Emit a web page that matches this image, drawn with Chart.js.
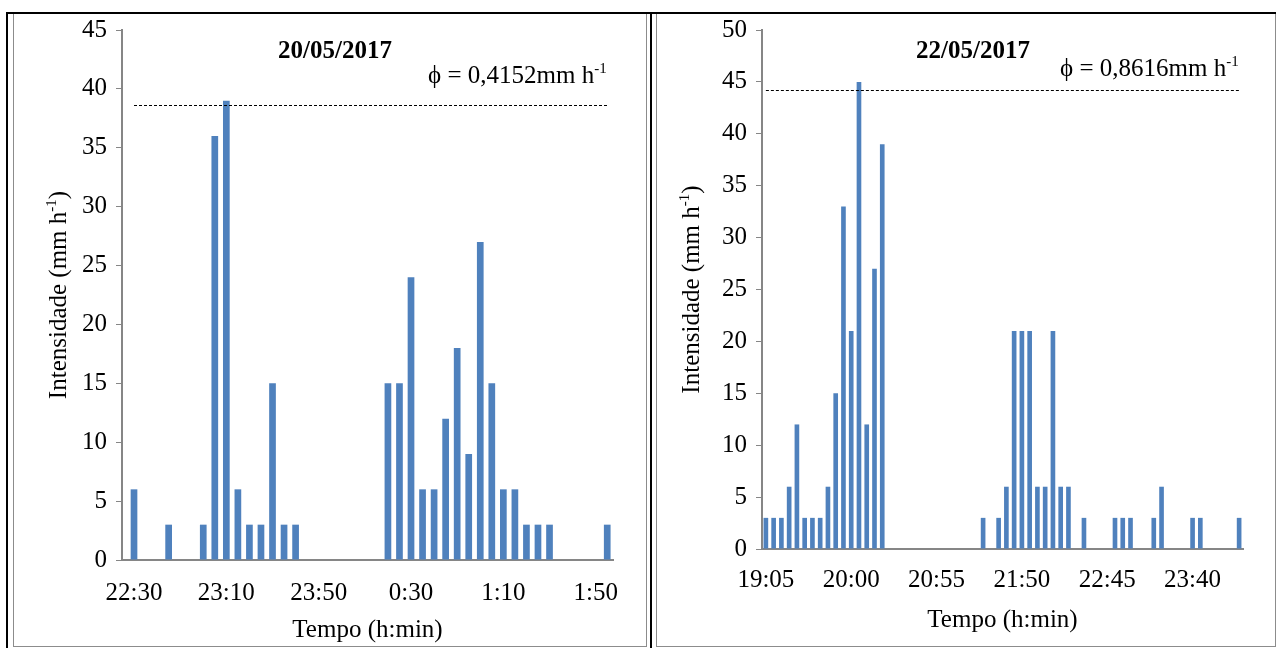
<!DOCTYPE html>
<html>
<head>
<meta charset="utf-8">
<script src="https://cdn.jsdelivr.net/npm/chart.js@4.4.1/dist/chart.umd.min.js"></script>
<style>
  html, body { margin: 0; padding: 0; background: #fff; }
  #page { position: relative; width: 1276px; height: 648px; overflow: hidden; }
  .rule { position: absolute; background: #000; }
  .panel { position: absolute; top: 14px; border: 1px solid #8c8c8c; border-top: none; }
  .panel canvas { display: block; }
</style>
</head>
<body>
<div id="page">
  <div class="rule" style="left:6px;top:12px;width:1270px;height:2px"></div>
  <div class="rule" style="left:6px;top:12px;width:2px;height:636px"></div>
  <div class="rule" style="left:650px;top:12px;width:2px;height:636px"></div>
  <div class="panel" style="left:13px"><canvas id="left" width="632" height="632"></canvas></div>
  <div class="panel" style="left:656px"><canvas id="right" width="618" height="632"></canvas></div>
</div>
<script>
// 20/05/2017 - 5 min steps
const leftCategories = [
  "22:30", "22:35", "22:40", "22:45", "22:50", "22:55", "23:00", "23:05", "23:10", "23:15",
  "23:20", "23:25", "23:30", "23:35", "23:40", "23:45", "23:50", "23:55", "0:00", "0:05",
  "0:10", "0:15", "0:20", "0:25", "0:30", "0:35", "0:40", "0:45", "0:50", "0:55",
  "1:00", "1:05", "1:10", "1:15", "1:20", "1:25", "1:30", "1:35", "1:40", "1:45",
  "1:50", "1:55"
];
const leftValues = [
  6, 0, 0, 3, 0, 0, 3, 36, 39, 6,
  3, 3, 15, 3, 3, 0, 0, 0, 0, 0,
  0, 0, 15, 15, 24, 6, 6, 12, 18, 9,
  27, 15, 6, 6, 3, 3, 3, 0, 0, 0,
  0, 3
];
const leftTickLabels = ["22:30", "23:10", "23:50", "0:30", "1:10", "1:50"];
const leftDate = "20/05/2017";
const leftPhi = "0,4152";
const leftRefLine = 38.6;

// 22/05/2017 - 5 min steps
const rightCategories = [
  "19:05", "19:10", "19:15", "19:20", "19:25", "19:30", "19:35", "19:40", "19:45", "19:50",
  "19:55", "20:00", "20:05", "20:10", "20:15", "20:20", "20:25", "20:30", "20:35", "20:40",
  "20:45", "20:50", "20:55", "21:00", "21:05", "21:10", "21:15", "21:20", "21:25", "21:30",
  "21:35", "21:40", "21:45", "21:50", "21:55", "22:00", "22:05", "22:10", "22:15", "22:20",
  "22:25", "22:30", "22:35", "22:40", "22:45", "22:50", "22:55", "23:00", "23:05", "23:10",
  "23:15", "23:20", "23:25", "23:30", "23:35", "23:40", "23:45", "23:50", "23:55", "0:00",
  "0:05", "0:10"
];
const rightValues = [
  3, 3, 3, 6, 12, 3, 3, 3, 6, 15,
  33, 21, 45, 12, 27, 39, 0, 0, 0, 0,
  0, 0, 0, 0, 0, 0, 0, 0, 3, 0,
  3, 6, 21, 21, 21, 6, 6, 21, 6, 6,
  0, 3, 0, 0, 0, 3, 3, 3, 0, 0,
  3, 6, 0, 0, 0, 3, 3, 0, 0, 0,
  0, 3
];
const rightTickLabels = ["19:05", "20:00", "20:55", "21:50", "22:45", "23:40"];
const rightDate = "22/05/2017";
const rightPhi = "0,8616";
const rightRefLine = 44.2;

const FONT = "'Liberation Serif', 'Times New Roman', serif";
const AXIS_GREY = "#868686";
const BAR_BLUE = "#4f81bd";

// draws text runs, some raised as superscript; returns total width
function drawRuns(ctx, runs, x, y, measureOnly) {
  let cx = x;
  runs.forEach((r) => {
    ctx.font = r.sup ? `15px ${FONT}` : `25px ${FONT}`;
    if (!measureOnly) ctx.fillText(r.t, cx, r.sup ? y - 10 : y);
    cx += ctx.measureText(r.t).width;
  });
  return cx - x;
}

const panelText = {
  id: "panelText",
  afterDatasetsDraw(chart, args, opts) {
    const { ctx, chartArea: a, scales } = chart;
    const xs = scales.x;
    const ys = scales.y;
    ctx.save();

    // dashed reference line across the data range
    const ly = Math.round(ys.getPixelForValue(opts.refLine)) + 0.5;
    ctx.strokeStyle = "#000";
    ctx.lineWidth = 1;
    ctx.setLineDash([3, 2]);
    ctx.beginPath();
    ctx.moveTo(xs.getPixelForValue(0), ly);
    ctx.lineTo(xs.getPixelForValue(opts.count - 1), ly);
    ctx.stroke();
    ctx.setLineDash([]);

    ctx.fillStyle = "#000";
    // date
    ctx.font = `bold 25px ${FONT}`;
    ctx.textAlign = "center";
    ctx.textBaseline = "middle";
    ctx.fillText(opts.date, a.left + opts.dateDx, a.top + opts.dateDy);

    // phi annotation
    ctx.textAlign = "left";
    ctx.textBaseline = "alphabetic";
    drawRuns(ctx, [
      { t: "\u03d5 = " + opts.phi + "mm h" },
      { t: "-1", sup: true }
    ], a.left + opts.phiDx, a.top + opts.phiDy);

    // y axis title, rotated
    const runs = [{ t: "Intensidade (mm h" }, { t: "-1", sup: true }, { t: ")" }];
    const w = drawRuns(ctx, runs, 0, 0, true);
    ctx.translate(a.left - opts.yTitleDx, (a.top + a.bottom) / 2);
    ctx.rotate(-Math.PI / 2);
    drawRuns(ctx, runs, -w / 2, 8);
    ctx.restore();
  }
};

function buildChart(id, p) {
  const tickIdx = p.tickLabels.map((l) => p.categories.indexOf(l));
  return new Chart(document.getElementById(id), {
    type: "bar",
    data: {
      datasets: [{
        data: p.values.map((v, i) => ({ x: i, y: v })),
        backgroundColor: BAR_BLUE,
        borderWidth: 0,
        categoryPercentage: 1,
        barPercentage: p.barPct
      }]
    },
    options: {
      responsive: false,
      animation: false,
      devicePixelRatio: 1,
      layout: { padding: { left: 0, right: p.padRight, top: 16, bottom: 0 } },
      plugins: {
        legend: { display: false },
        tooltip: { enabled: false },
        panelText: {
          refLine: p.refLine, count: p.categories.length,
          date: p.date, dateDx: p.dateDx, dateDy: 22,
          phi: p.phi, phiDx: p.phiDx, phiDy: p.phiDy,
          yTitleDx: p.yTitleDx
        }
      },
      scales: {
        x: {
          type: "linear",
          offset: false,
          min: p.xMin,
          max: p.categories.length - 0.5,
          grid: { display: false },
          border: { display: true, color: AXIS_GREY, width: 2 },
          afterBuildTicks: (s) => { s.ticks = tickIdx.map((v) => ({ value: v })); },
          afterFit: (s) => {
            s.height = p.xHeight;
            s.paddingLeft = 0;
            s.paddingRight = 0;
          },
          ticks: {
            autoSkip: false,
            maxRotation: 0,
            padding: p.xPad,
            color: "#000",
            font: { family: FONT, size: 25 },
            callback: (v) => p.categories[v]
          },
          title: {
            display: true,
            text: "Tempo (h:min)",
            color: "#000",
            font: { family: FONT, size: 25 },
            padding: { top: 0, bottom: p.titlePad }
          }
        },
        y: {
          min: 0,
          max: p.yMax,
          grid: { drawOnChartArea: false, drawTicks: true, tickLength: 6, color: AXIS_GREY },
          border: { display: true, color: AXIS_GREY, width: 2 },
          afterFit: (s) => {
            s.width = p.yWidth;
            s.paddingTop = 0;
            s.paddingBottom = 0;
          },
          ticks: {
            stepSize: 5,
            padding: 9,
            color: "#000",
            font: { family: FONT, size: 25 }
          }
        }
      }
    },
    plugins: [panelText]
  });
}

buildChart("left", {
  categories: leftCategories, values: leftValues, tickLabels: leftTickLabels,
  date: leftDate, phi: leftPhi, refLine: leftRefLine,
  xMin: -1.04, yMax: 45, barPct: 0.58,
  yWidth: 108, padRight: 33, xHeight: 86, xPad: 10, titlePad: 1,
  dateDx: 213, phiDx: 306, phiDy: 53, yTitleDx: 64
});

buildChart("right", {
  categories: rightCategories, values: rightValues, tickLabels: rightTickLabels,
  date: rightDate, phi: rightPhi, refLine: rightRefLine,
  xMin: -0.5, yMax: 50, barPct: 0.6,
  yWidth: 105, padRight: 32, xHeight: 97, xPad: 8, titlePad: 11,
  dateDx: 211, phiDx: 298, phiDy: 46, yTitleDx: 71
});
</script>
</body>
</html>
